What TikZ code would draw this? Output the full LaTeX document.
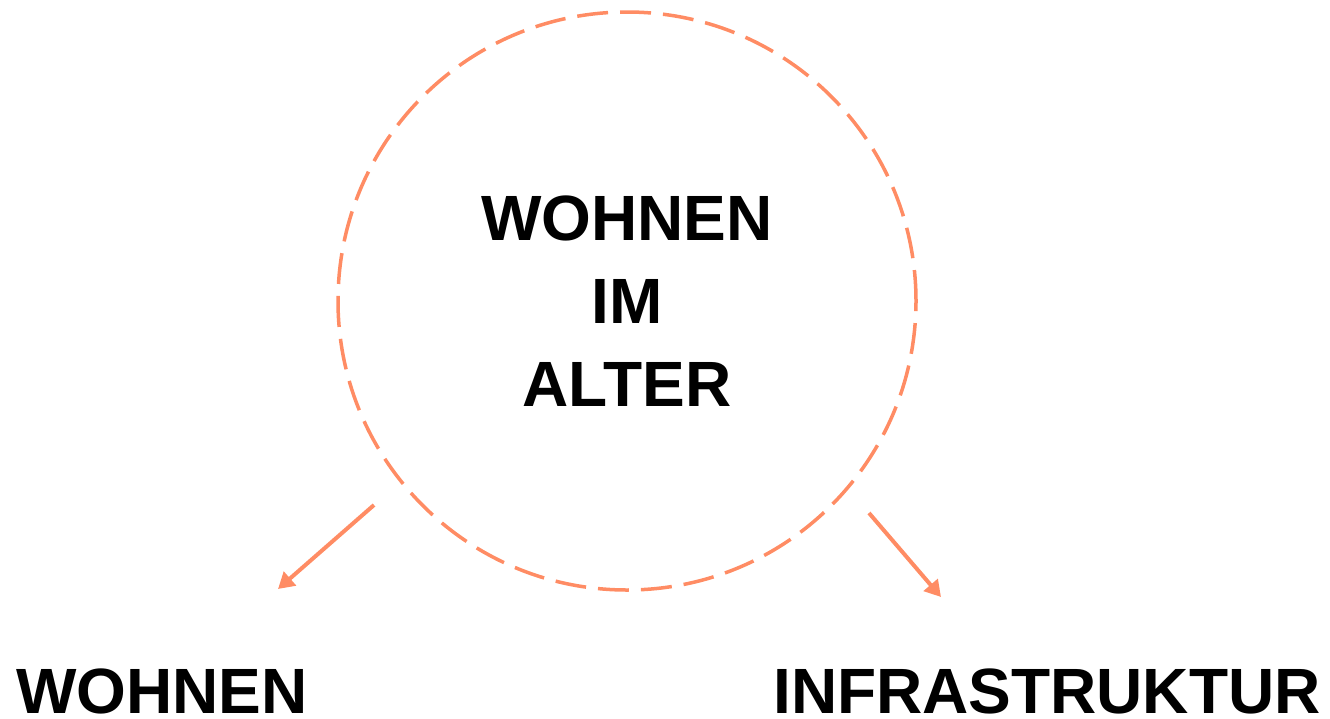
\documentclass[tikz,border=0pt]{standalone}
\usepackage{fontspec}
\setmainfont{Liberation Sans}
\usetikzlibrary{arrows.meta}
\definecolor{salmon}{RGB}{255,140,100}
\tikzset{
  lbl/.style={font=\bfseries\fontsize{64}{83}\selectfont, inner sep=0pt, text=black},
  conn/.style={draw=salmon, line width=4pt, -{Triangle[length=16pt,width=18pt]}},
}
\begin{document}
\begin{tikzpicture}[x=1pt,y=-1pt]
\useasboundingbox (0,0) rectangle (1330,718);
\node[circle, draw=salmon, line width=3.5pt, dash pattern=on 31pt off 12pt, minimum size=578pt, inner sep=0pt] (c) at (627,301) {};
\node[lbl, align=center, anchor=base] (t) at (627,406) {WOHNEN\\IM\\ALTER};
\node[lbl, anchor=base west] (w) at (16,713) {WOHNEN};
\node[lbl, anchor=base west] (i) at (773,713) {INFRASTRUKTUR};
\coordinate (s1) at (374,505);
\coordinate (e1) at (278,589);
\coordinate (s2) at (869,513);
\coordinate (e2) at (941,597);
\draw[conn] (s1) -- (e1);
\draw[conn] (s2) -- (e2);
\end{tikzpicture}
\end{document}
